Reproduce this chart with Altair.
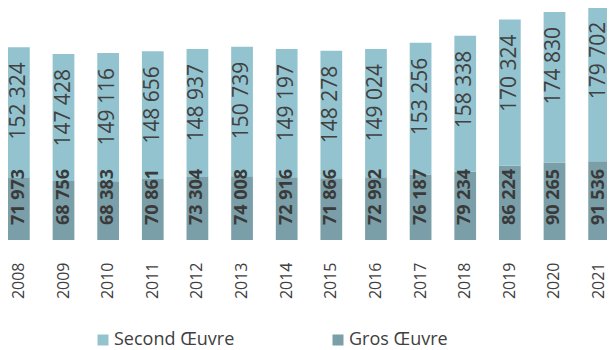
import altair as alt
import pandas as pd

years = [str(y) for y in range(2008, 2022)]
gros = [71973, 68756, 68383, 70861, 73304, 74008, 72916, 71866, 72992, 76187, 79234, 86224, 90265, 91536]
second = [152324, 147428, 149116, 148656, 148937, 150739, 149197, 148278, 149024, 153256, 158338, 170324, 174830, 179702]
series = ["Second Œuvre", "Gros Œuvre"]
colors = ["#93C3CF", "#7A9FA8"]


def fmt(v):
    return f"{v:,}".replace(",", " ")


wide = pd.DataFrame({"year": years, "gros": gros, "second": second})
wide["total"] = wide["gros"] + wide["second"]
wide["gros_lbl"] = [fmt(v) for v in gros]
wide["second_lbl"] = [fmt(v) for v in second]

long = pd.concat([
    pd.DataFrame({"year": years, "series": series[1], "value": gros, "rank": 0}),
    pd.DataFrame({"year": years, "series": series[0], "value": second, "rank": 1}),
])

FONT = "Open Sans"
TXT = "#404040"

xenc = alt.X(
    "year:N",
    scale=alt.Scale(range=[0, 602], paddingInner=0.513, paddingOuter=0),
    axis=alt.Axis(title=None, labelAngle=-90, labelFontSize=16, labelColor=TXT,
                  labelFont=FONT, domain=False, ticks=False, tickSize=0, labelPadding=22),
)
yscale = alt.Scale(domain=[0, 269800], nice=False, zero=True)

bars = alt.Chart(long).mark_bar().encode(
    x=xenc,
    y=alt.Y("value:Q", stack=True, scale=yscale, axis=None),
    color=alt.Color(
        "series:N",
        scale=alt.Scale(domain=series, range=colors),
        legend=alt.Legend(orient="none", legendX=86, legendY=323, direction="horizontal",
                          title=None, symbolType="square", symbolSize=121, symbolStrokeWidth=0,
                          labelFontSize=18, labelFont=FONT, labelColor=TXT,
                          columnPadding=94, labelOffset=2),
    ),
    order=alt.Order("rank:Q", sort="ascending"),
)

second_txt = alt.Chart(wide).mark_text(
    angle=270, align="right", baseline="middle", dx=-15, fontSize=21, font=FONT, color=TXT
).encode(
    x=alt.X("year:N"),
    y=alt.Y("total:Q", scale=yscale),
    text="second_lbl:N",
)

gros_txt = alt.Chart(wide).mark_text(
    angle=270, align="left", baseline="middle", dx=15, fontSize=18, font=FONT,
    fontWeight="bold", color="#3a3a3a"
).encode(
    x=alt.X("year:N"),
    y=alt.datum(0),
    text="gros_lbl:N",
)

chart = alt.layer(bars, second_txt, gros_txt).properties(
    width=599,
    height=232,
    autosize=alt.AutoSizeParams(type="none"),
    padding={"left": 0, "top": 0, "right": 0, "bottom": 106},
).configure_view(stroke=None)

chart.save("out.html", embed_options={"renderer": "svg", "actions": False})
